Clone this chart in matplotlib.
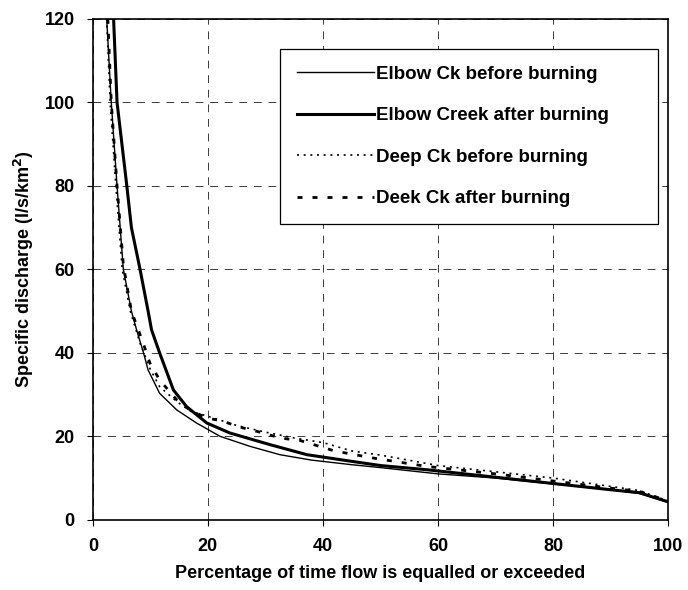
import matplotlib
matplotlib.use("Agg")
import matplotlib.pyplot as plt

# flow duration curves
elbow_before_x = [2.4, 3.2, 4.2, 5.3, 6.7, 7.6, 8.8, 9.6, 11.6, 14.6, 18.0, 22.1,
                  27.3, 32.5, 38.0, 45.0, 50.0, 60.0, 70.0, 80.0, 90.0, 95.0, 100.0]
elbow_before_y = [120, 100, 80, 60, 50, 45.5, 40, 35.9, 30.3, 26.3, 23.2, 20.0,
                  17.6, 15.6, 14.3, 13.2, 12.5, 11.0, 10.0, 8.6, 7.2, 6.3, 4.2]

elbow_after_x = [3.6, 4.2, 5.9, 6.7, 8.2, 9.6, 10.2, 11.6, 14.0, 16.3, 19.8, 23.8,
                 30.8, 37.2, 45.0, 50.0, 58.0, 70.0, 80.0, 90.0, 95.0, 100.0]
elbow_after_y = [120, 100, 80, 70, 60, 50, 45.5, 40, 31.1, 27.1, 23.2, 20.8,
                 18.0, 15.6, 14.0, 13.0, 12.0, 10.2, 8.7, 7.2, 6.5, 4.3]

deep_before_x = [2.4, 3.0, 4.0, 5.1, 6.5, 8.2, 10.0, 11.6, 14.6, 17.0, 20.0, 25.0,
                 30.0, 35.0, 40.0, 45.0, 50.0, 60.0, 70.0, 80.0, 90.0, 95.0, 100.0]
deep_before_y = [120, 100, 80, 60, 50, 42.3, 36.0, 31.9, 28.3, 26.0, 24.8, 22.6,
                 21.0, 19.6, 18.5, 16.5, 15.5, 13.0, 11.5, 10.0, 8.0, 7.0, 4.5]

deep_after_x = [2.6, 3.2, 4.2, 5.3, 6.7, 8.75, 9.9, 11.6, 14.6, 16.9, 19.8, 22.7,
                25.0, 29.6, 32.5, 36.0, 42.0, 48.7, 58.0, 70.0, 80.0, 90.0, 95.0, 100.0]
deep_after_y = [120, 100, 80, 61, 50, 42.3, 37.6, 33.5, 28.7, 26.3, 24.4, 23.6,
                22.4, 20.8, 19.6, 19.0, 16.5, 14.8, 12.8, 11.0, 9.3, 7.6, 6.8, 4.5]

xticks = [0, 20, 40, 60, 80, 100]
yticks = [0, 20, 40, 60, 80, 100, 120]

plt.rcParams["font.family"] = ["Liberation Sans", "DejaVu Sans"]
plt.rcParams["font.weight"] = "bold"

fig = plt.figure(figsize=(6.88, 5.90), dpi=100)
ax = fig.add_axes([0.135, 0.119, 0.836, 0.849])

ax.plot(elbow_before_x, elbow_before_y, color="black", lw=1.0,
        label="Elbow Ck before burning")
ax.plot(elbow_after_x, elbow_after_y, color="black", lw=2.2,
        label="Elbow Creek after burning")
ax.plot(deep_before_x, deep_before_y, color="black", lw=1.2, ls=(0, (1.2, 2.8)),
        label="Deep Ck before burning")
ax.plot(deep_after_x, deep_after_y, color="black", lw=2.0, ls=(0, (1.8, 3.6)),
        label="Deek Ck after burning")

ax.set_xlim(0, 100)
ax.set_ylim(0, 120)
ax.set_xticks(xticks)
ax.set_yticks(yticks)
ax.tick_params(labelsize=13, length=4, width=0.8, pad=9)
for lab in ax.get_xticklabels() + ax.get_yticklabels():
    lab.set_fontweight("bold")
ax.grid(True, color="#3a3a3a", lw=0.7, ls=(0, (8, 7)))
for s in ax.spines.values():
    s.set_linewidth(1.2)

ax.set_xlabel("Percentage of time flow is equalled or exceeded",
              fontsize=13, fontweight="bold", labelpad=7)
ax.set_ylabel("Specific discharge (l/s/km$^\\mathbf{2}$)",
              fontsize=13, fontweight="bold", labelpad=6)

# legend box stretched to the width seen in the reference
leg = ax.legend(loc="upper left", bbox_to_anchor=(0.325, 0.5, 0.657, 0.44),
                mode="expand", fontsize=13.5, handlelength=4.1, handletextpad=0.15,
                labelspacing=1.3, borderpad=0.9, fancybox=False, framealpha=1,
                borderaxespad=0)
leg.get_frame().set_edgecolor("black")
leg.get_frame().set_linewidth(0.9)
for t in leg.get_texts():
    t.set_fontweight("bold")

fig.savefig("out.png", dpi=100)
